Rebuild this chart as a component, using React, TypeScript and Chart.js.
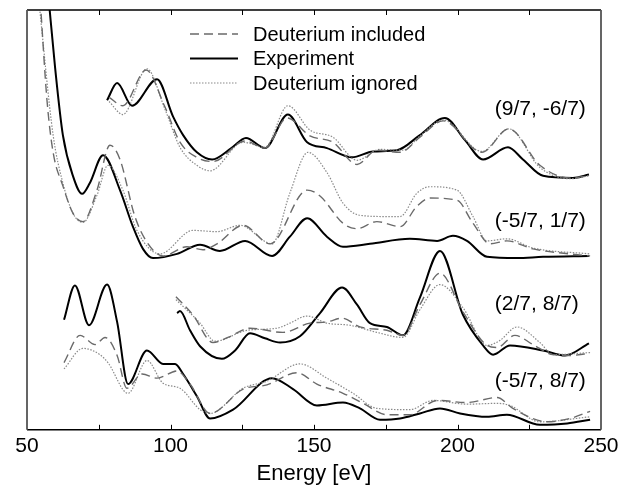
import { useEffect, useRef } from "react";
import { Chart, registerables } from "chart.js";

Chart.register(...registerables);

type Pt = [number, number];

// Energy axis
const xMin = 50;
const xMax = 250;
const xMajorStep = 50;
const xMinorTicks = [75, 100, 125, 150, 175, 200, 225];

const seriesNames = ["Deuterium included", "Experiment", "Deuterium ignored"];

// Group labels and their anchor (energy, intensity)
const groupLabels = ["(9/7, -6/7)", "(-5/7, 1/7)", "(2/7, 8/7)", "(-5/7, 8/7)"];
const groupLabelE = [213, 213, 213, 213];
const groupLabelV = [76.3, 49.6, 30.0, 11.6];

// (9/7, -6/7)
const g1Experiment: Pt[] = [[77.9,78.5],[81.4,82.6],[86.6,77.2],[95.3,83.5],[100.9,74.6],[104.4,70.2],[109.2,66.1],[114.5,64.4],[121.2,67.1],[126.3,69.5],[132.9,67.1],[140.9,75.1],[147.6,68.5],[154.5,67.1],[163.2,64.9],[170.6,66.3],[178.9,66.6],[186.9,70.2],[195.6,74.3],[202.6,69.0],[208.9,64.4],[217.6,67.3],[222.8,64.4],[229.8,60.5],[240.2,60.0],[245.8,60.8]];
const g1Included: Pt[] = [[78.6,79.2],[83.4,77.2],[91.5,85.7],[98.0,77.0],[103.3,68.5],[109.2,64.9],[114.8,63.9],[126.0,68.8],[132.9,67.1],[140.6,74.3],[148.6,70.0],[156.6,68.5],[165.0,63.2],[171.9,66.6],[180.0,66.1],[186.9,69.7],[195.0,73.6],[208.5,66.1],[217.9,71.7],[228.7,63.0],[239.2,60.0],[245.8,60.5]];
const g1Ignored: Pt[] = [[78.6,78.2],[83.4,75.1],[91.8,86.0],[98.0,76.5],[103.3,67.3],[109.2,63.0],[113.8,61.7],[125.3,68.5],[132.9,67.3],[140.9,77.2],[148.6,71.4],[156.6,69.7],[165.0,64.2],[173.0,66.8],[181.0,66.6],[186.9,70.0],[195.0,73.8],[208.5,66.3],[217.9,71.7],[228.7,62.5],[239.2,59.8],[245.8,60.5]];

// (-5/7, 1/7)
const g2Experiment: Pt[] = [[57.5,103],[59.8,86.2],[62.5,70.2],[66.0,60.5],[69.2,56.2],[71.9,58.8],[76.5,65.4],[82.4,57.1],[86.9,48.4],[90.4,43.1],[93.9,40.9],[102.3,41.9],[110.3,44.1],[117.2,42.6],[126.0,45.0],[135.4,41.4],[141.6,46.0],[147.6,50.4],[154.5,46.0],[160.1,43.6],[169.5,44.3],[183.4,45.5],[192.9,45.0],[198.4,46.2],[203.3,45.0],[210.3,41.2],[220.7,40.9],[229.8,41.2],[245.8,41.4]];
const g2Included: Pt[] = [[54.6,102.4],[57.0,78.2],[59.1,66.1],[62.5,58.1],[66.0,51.6],[69.5,49.6],[74.4,57.1],[78.9,67.8],[82.4,64.4],[87.6,50.8],[92.2,44.3],[97.4,41.4],[105.7,43.6],[111.3,42.9],[116.2,44.3],[125.3,48.7],[134.7,44.3],[147.6,57.1],[152.1,55.7],[160.1,49.2],[165.0,47.9],[171.9,49.6],[180.0,48.4],[185.9,53.3],[190.4,55.2],[199.8,54.7],[205.4,49.2],[211.3,44.3],[217.2,45.0],[226.3,43.1],[246.2,41.4]];
const g2Ignored: Pt[] = [[54.3,101],[59.1,70.2],[62.5,58.8],[66.0,51.6],[69.5,49.4],[74.4,55.9],[78.2,63.0],[83.4,57.1],[88.3,47.5],[96.3,41.9],[107.8,47.5],[116.2,47.2],[124.2,48.7],[135.4,44.3],[141.6,56.4],[147.9,66.1],[154.5,61.3],[160.1,54.0],[166.0,51.1],[175.4,50.8],[180.0,50.8],[185.9,56.4],[190.4,57.9],[199.8,57.1],[205.4,50.8],[210.3,45.0],[217.2,45.5],[226.3,43.3],[246.2,41.9]];

// (2/7, 8/7)
const g3Experiment: Pt[] = [[102.3,27.8],[103.3,28.3],[106.8,23.7],[110.3,19.9],[117.9,16.9],[122.5,18.9],[127.7,23.0],[132.9,21.8],[138.2,20.8],[145.1,22.3],[152.1,27.8],[159.8,33.9],[165.0,29.8],[169.5,25.4],[175.4,24.5],[181.0,22.5],[186.9,31.5],[193.9,42.6],[201.9,27.4],[208.9,20.1],[212.4,17.9],[218.3,20.1],[229.8,18.9],[237.5,17.7],[245.8,20.6]];
const g3Included: Pt[] = [[101.9,31.7],[107.8,27.4],[114.8,20.8],[120.0,22.0],[127.7,24.2],[139.2,23.2],[148.6,25.4],[154.5,25.7],[159.8,26.6],[166.0,24.5],[175.4,23.7],[181.0,22.5],[186.9,29.8],[193.9,37.3],[201.9,28.1],[210.3,20.1],[213.8,19.6],[220.0,22.5],[226.3,20.3],[233.3,17.9],[239.2,17.7],[245.8,18.2]];
const g3Ignored: Pt[] = [[101.9,31.0],[110.3,25.4],[115.5,21.1],[126.7,23.7],[137.1,24.2],[141.6,25.4],[147.6,27.1],[154.5,25.4],[162.5,24.9],[171.9,23.2],[181.0,22.0],[186.9,28.6],[193.9,34.6],[201.9,29.1],[210.3,20.1],[214.8,21.3],[220.7,24.5],[228.7,20.8],[233.3,17.9],[246.2,18.4]];

// (-5/7, 8/7)
const g4Experiment: Pt[] = [[62.9,26.2],[66.7,34.4],[71.6,24.9],[77.9,34.6],[81.4,25.7],[85.2,10.9],[91.8,18.9],[97.4,15.7],[101.6,15.7],[104.4,13.3],[109.2,8.0],[113.8,2.7],[121.8,4.8],[135.4,12.3],[142.7,9.7],[151.0,5.8],[160.1,6.5],[166.0,5.1],[173.0,2.4],[180.0,2.7],[186.9,3.9],[193.9,5.1],[200.9,3.9],[210.3,3.1],[217.2,3.6],[228.7,1.2],[238.2,1.5],[246.2,2.4]];
const g4Included: Pt[] = [[62.9,16.0],[68.5,22.5],[73.7,20.3],[77.2,22.0],[81.4,17.7],[84.8,9.9],[90.1,13.3],[95.3,12.3],[102.3,14.0],[106.8,10.9],[113.8,3.9],[125.3,9.7],[133.6,10.7],[144.1,13.6],[151.0,10.9],[160.1,8.7],[167.1,6.3],[175.4,3.6],[183.4,3.6],[192.9,7.0],[203.3,6.5],[213.8,7.7],[219.3,5.1],[231.2,1.9],[239.2,2.7],[246.2,4.4]];
const g4Ignored: Pt[] = [[62.9,14.5],[69.5,19.4],[75.4,17.9],[78.2,16.0],[85.2,8.7],[91.8,16.5],[97.4,11.1],[103.3,9.9],[110.3,4.8],[113.8,3.9],[125.3,9.9],[133.6,11.6],[145.1,15.7],[154.5,12.3],[163.6,8.7],[171.9,5.1],[183.4,4.8],[191.5,7.0],[203.3,6.1],[213.8,6.3],[218.3,5.8],[228.7,1.9],[246.2,3.1]];

const FONT = "'Liberation Sans', Arial, Helvetica, sans-serif";

const styles = {
  included: { borderColor: "#6a6a6a", borderWidth: 1.4, borderDash: [9, 5] },
  experiment: { borderColor: "#000000", borderWidth: 2, borderDash: [] as number[] },
  ignored: { borderColor: "#8a8a8a", borderWidth: 1.2, borderDash: [1.5, 1.5] },
};

function ds(data: Pt[], kind: keyof typeof styles, label: string) {
  return {
    label,
    data: data.map(([x, y]) => ({ x, y })),
    ...styles[kind],
    pointRadius: 0,
    fill: false,
    cubicInterpolationMode: "monotone" as const,
  };
}

const decorPlugin = {
  id: "decor",
  afterDatasetsDraw(chart: any) {
    const { ctx, chartArea: a, scales } = chart;
    const xs = scales.x;
    const ys = scales.y;
    ctx.save();
    // frame
    ctx.lineWidth = 1.5;
    ctx.strokeStyle = "#000";
    ctx.beginPath();
    ctx.moveTo(a.left, a.top);
    ctx.lineTo(a.right, a.top);
    ctx.moveTo(a.left, a.bottom);
    ctx.lineTo(a.right, a.bottom);
    ctx.stroke();
    ctx.strokeStyle = "#555";
    ctx.lineWidth = 1.8;
    ctx.beginPath();
    ctx.moveTo(a.left, a.top);
    ctx.lineTo(a.left, a.bottom);
    ctx.moveTo(a.right, a.top);
    ctx.lineTo(a.right, a.bottom);
    ctx.stroke();
    // inward tick marks
    ctx.strokeStyle = "#000";
    ctx.lineWidth = 1;
    ctx.beginPath();
    for (const t of xMinorTicks) {
      const px = Math.round(xs.getPixelForValue(t)) + 0.5;
      ctx.moveTo(px, a.bottom);
      ctx.lineTo(px, a.bottom - 5);
      ctx.moveTo(px, a.top);
      ctx.lineTo(px, a.top + 5);
    }
    ctx.stroke();

    // legend
    const kinds: (keyof typeof styles)[] = ["included", "experiment", "ignored"];
    ctx.font = `20px ${FONT}`;
    ctx.textBaseline = "middle";
    ctx.textAlign = "left";
    kinds.forEach((k, i) => {
      const st = styles[k];
      const y = a.top + 24 + i * 24.5;
      ctx.strokeStyle = st.borderColor;
      ctx.lineWidth = st.borderWidth;
      ctx.setLineDash(st.borderDash);
      ctx.beginPath();
      ctx.moveTo(a.left + 163, y);
      ctx.lineTo(a.left + 211, y);
      ctx.stroke();
      ctx.setLineDash([]);
      ctx.fillStyle = "#000";
      ctx.fillText(seriesNames[i], a.left + 226, y + 1);
    });

    // group labels
    ctx.font = `21px ${FONT}`;
    groupLabels.forEach((t, i) => {
      ctx.fillText(t, xs.getPixelForValue(groupLabelE[i]), ys.getPixelForValue(groupLabelV[i]));
    });
    ctx.restore();
  },
};

export default function App() {
  const ref = useRef<HTMLCanvasElement>(null);
  useEffect(() => {
    if (!ref.current) return;
    const chart = new Chart(ref.current, {
      type: "line",
      data: {
        datasets: [
          ds(g1Included, "included", seriesNames[0]),
          ds(g1Ignored, "ignored", seriesNames[2]),
          ds(g1Experiment, "experiment", seriesNames[1]),
          ds(g2Included, "included", seriesNames[0]),
          ds(g2Ignored, "ignored", seriesNames[2]),
          ds(g2Experiment, "experiment", seriesNames[1]),
          ds(g3Included, "included", seriesNames[0]),
          ds(g3Ignored, "ignored", seriesNames[2]),
          ds(g3Experiment, "experiment", seriesNames[1]),
          ds(g4Included, "included", seriesNames[0]),
          ds(g4Ignored, "ignored", seriesNames[2]),
          ds(g4Experiment, "experiment", seriesNames[1]),
        ],
      },
      options: {
        animation: false,
        responsive: false,
        parsing: false as any,
        layout: { padding: { left: 27, right: 28, top: 10, bottom: 0 } },
        plugins: { legend: { display: false }, tooltip: { enabled: false } },
        scales: {
          x: {
            type: "linear",
            min: xMin,
            max: xMax,
            grid: { display: false, drawTicks: false },
            border: { display: false },
            ticks: {
              stepSize: xMajorStep,
              padding: 4,
              color: "#000",
              font: { family: FONT, size: 21 },
            },
            title: {
              display: true,
              text: "Energy [eV]",
              color: "#000",
              font: { family: FONT, size: 22, lineHeight: 1.0 },
              padding: { top: 0, bottom: 0 },
            },
          },
          y: {
            display: false,
            min: 0,
            max: 100,
          },
        },
      },
      plugins: [decorPlugin],
    });
    return () => chart.destroy();
  }, []);
  return (
    <div style={{ position: "fixed", left: 0, top: 0, width: 629, height: 485, background: "#fff" }}>
      <canvas ref={ref} width={629} height={485} />
    </div>
  );
}
